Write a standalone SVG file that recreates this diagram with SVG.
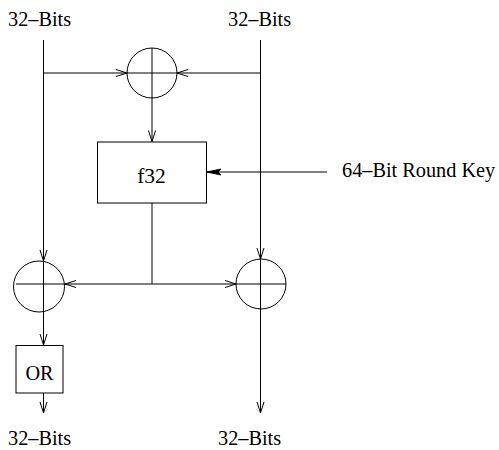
<svg xmlns="http://www.w3.org/2000/svg" width="499" height="450" viewBox="0 0 499 450">
<style>
  .ln{stroke:#000;stroke-width:1;fill:none}
  .arr{marker-end:url(#open)}
  .txt{font-family:"Liberation Serif","Times New Roman",serif;font-size:20.3px;fill:#000}
</style>
<defs>
  <marker id="open" markerUnits="userSpaceOnUse" markerWidth="14" markerHeight="10" refX="11" refY="4" orient="auto" overflow="visible">
    <path d="M0,0.5 L11,4 L0,7.5" fill="none" stroke="#000" stroke-width="1"/>
  </marker>
  <marker id="filled" markerUnits="userSpaceOnUse" markerWidth="16" markerHeight="10" refX="14" refY="4" orient="auto" overflow="visible">
    <path d="M0,1 L14,4 L0,7 L3,4 Z" fill="#000" stroke="#000" stroke-width="1"/>
  </marker>
</defs>
<rect width="499" height="450" fill="#fff"/>
<g id="labels">
  <text class="txt" x="8" y="26">32–Bits</text>
  <text class="txt" x="228" y="26">32–Bits</text>
  <text class="txt" x="342" y="177">64–Bit Round Key</text>
  <text class="txt" x="8" y="445">32–Bits</text>
  <text class="txt" x="218" y="445">32–Bits</text>
</g>
<g id="xor-top">
  <circle class="ln" cx="152" cy="73" r="25"/>
  <line class="ln" x1="127" y1="73" x2="177" y2="73"/>
</g>
<g id="f32">
  <rect class="ln" x="97.5" y="142" width="109" height="61"/>
  <text class="txt" x="151.5" y="182.5" text-anchor="middle" style="font-size:21.5px">f32</text>
</g>
<g id="xor-left">
  <circle class="ln" cx="39" cy="286.5" r="25.5"/>
  <line class="ln" x1="16" y1="284" x2="65" y2="284"/>
</g>
<g id="xor-right">
  <circle class="ln" cx="261" cy="284" r="25"/>
  <line class="ln" x1="236" y1="284" x2="286" y2="284"/>
</g>
<g id="or">
  <rect class="ln" x="16" y="345.5" width="47" height="47.5"/>
  <text class="txt" x="39.5" y="380" text-anchor="middle">OR</text>
</g>
<g id="connectors">
  <line class="ln arr" x1="43.5" y1="40" x2="43.5" y2="261"/>
  <line class="ln arr" x1="43.5" y1="261" x2="43.5" y2="345"/>
  <line class="ln arr" x1="43.5" y1="393" x2="43.5" y2="413"/>
  <line class="ln arr" x1="43.5" y1="73" x2="127" y2="73"/>
  <line class="ln arr" x1="260.5" y1="40" x2="260.5" y2="259"/>
  <line class="ln arr" x1="260.5" y1="259" x2="260.5" y2="413"/>
  <line class="ln arr" x1="260.5" y1="73" x2="177" y2="73"/>
  <line class="ln arr" x1="152" y1="48" x2="152" y2="141.5"/>
  <line class="ln" x1="327" y1="172" x2="207" y2="172" marker-end="url(#filled)"/>
  <line class="ln" x1="152" y1="203" x2="152" y2="284"/>
  <line class="ln arr" x1="152" y1="284" x2="65" y2="284"/>
  <line class="ln arr" x1="152" y1="284" x2="236" y2="284"/>
</g>
</svg>
